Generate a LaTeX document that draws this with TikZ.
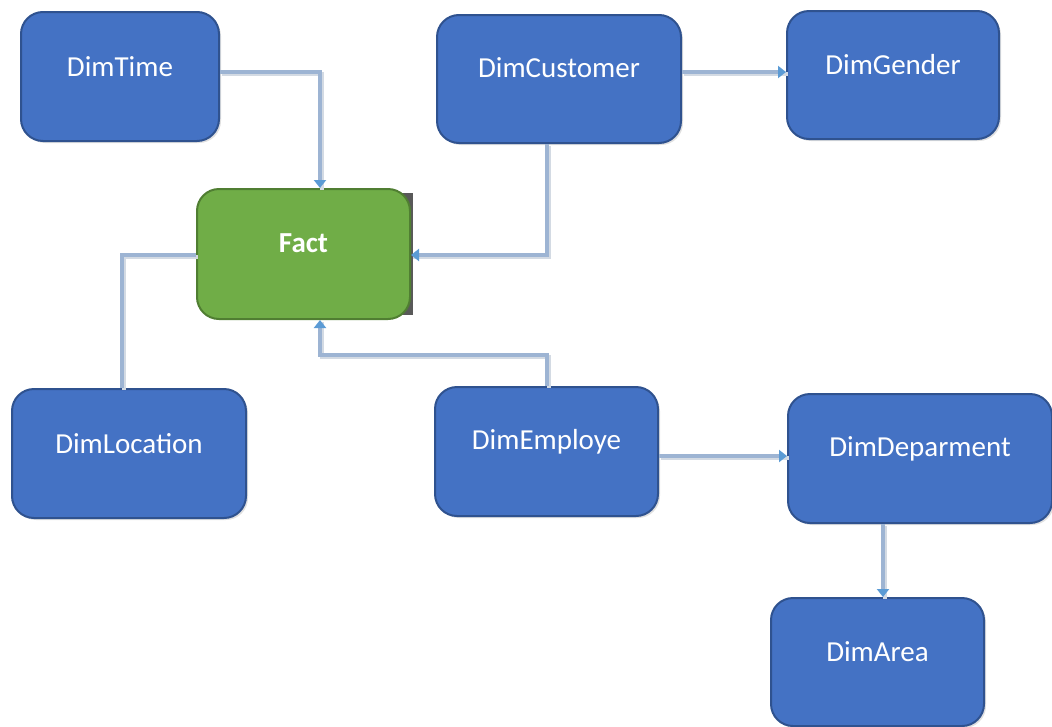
\documentclass[tikz,border=0pt]{standalone}
\usepackage{fontspec}
\setmainfont{Carlito}
\usetikzlibrary{arrows.meta}
\definecolor{boxblue}{HTML}{4472C4}
\definecolor{boxblueedge}{HTML}{2F528F}
\definecolor{factgreen}{HTML}{70AD47}
\definecolor{factedge}{HTML}{507E32}
\definecolor{linkblue}{HTML}{9DB4D3}
\definecolor{linkshade}{HTML}{D3DAE3}
\definecolor{tipblue}{HTML}{5B9BD5}
\tikzset{
  dimbox/.style={draw=boxblueedge, fill=boxblue, line width=2pt, rounded corners=22pt,
    anchor=north west, inner sep=0pt},
  factbox/.style={dimbox, draw=factedge, fill=factgreen},
  boxshade/.style={fill=black!12, rounded corners=22pt},
  lbl/.style={text=white, font=\fontsize{29}{34}\selectfont, inner sep=0pt},
  link/.style={draw=linkblue, line width=3.5pt,
    preaction={draw=linkshade, line width=3.5pt, arrows=-,
      transform canvas={shift={(1.8pt,-1.8pt)}}}},
  tip/.style={-{Triangle[length=8pt,width=12pt,fill=tipblue,color=tipblue]}},
}
\begin{document}
\begin{tikzpicture}[x=1pt,y=-1pt]
\useasboundingbox (0,0) rectangle (1052,726);

% soft drop shadows under the boxes
\foreach \xa/\ya/\xb/\yb in {20/11/218/140, 436/14/680/142, 786/10/998/138,
  11/388/245/517, 434/386/657/515, 787/393/1051/522, 770/597/983/725}
  \fill[boxshade] (\xa+3,\ya+3) rectangle (\xb+3,\yb+3);
% darker shadow on the right of the fact box
\fill[black!65] (240,193) rectangle (413,315);

% dimension boxes
\node[dimbox, minimum width=198pt, minimum height=129pt] (time) at (20,11) {};
\node[dimbox, minimum width=244pt, minimum height=128pt] (customer) at (436,14) {};
\node[dimbox, minimum width=212pt, minimum height=128pt] (gender) at (786,10) {};
\node[factbox, minimum width=213pt, minimum height=130pt] (fact) at (196,188) {};
\node[dimbox, minimum width=234pt, minimum height=129pt] (location) at (11,388) {};
\node[dimbox, minimum width=223pt, minimum height=129pt] (employe) at (434,386) {};
\node[dimbox, minimum width=264pt, minimum height=129pt] (deparment) at (787,393) {};
\node[dimbox, minimum width=213pt, minimum height=128pt] (area) at (770,597) {};

% box titles, set a little above centre
\node[lbl] (timeL) at ([yshift=10pt]time.center) {DimTime};
\node[lbl] (customerL) at ([yshift=11pt]customer.center) {DimCustomer};
\node[lbl] (genderL) at ([yshift=10pt]gender.center) {DimGender};
\node[lbl, font=\fontsize{29}{34}\selectfont\bfseries] (factL) at ([yshift=11pt]fact.center) {Fact};
\node[lbl] (locationL) at ([yshift=10pt]location.center) {DimLocation};
\node[lbl] (employeL) at ([yshift=10pt]employe.center) {DimEmploye};
\node[lbl] (deparmentL) at ([yshift=10pt]deparment.center) {DimDeparment};
\node[lbl] (areaL) at ([yshift=10pt]area.center) {DimArea};

% connectors
\draw[link, tip] (time.east |- 0,72) -| (320,0 |- fact.north);
\draw[link, tip] (547,0 |- customer.south) |- (fact.east |- 0,255);
\draw[link, tip] (customer.east |- 0,72) -- (gender.west |- 0,72);
\draw[link] (122,0 |- location.north) |- (fact.west |- 0,255);
\draw[link, tip] (547,0 |- employe.north) -- (547,355) -| (320,0 |- fact.south);
\draw[link, tip] (employe.east |- 0,456) -- (deparment.west |- 0,456);
\draw[link, tip] (883,0 |- deparment.south) -- (883,0 |- area.north);
\end{tikzpicture}
\end{document}
